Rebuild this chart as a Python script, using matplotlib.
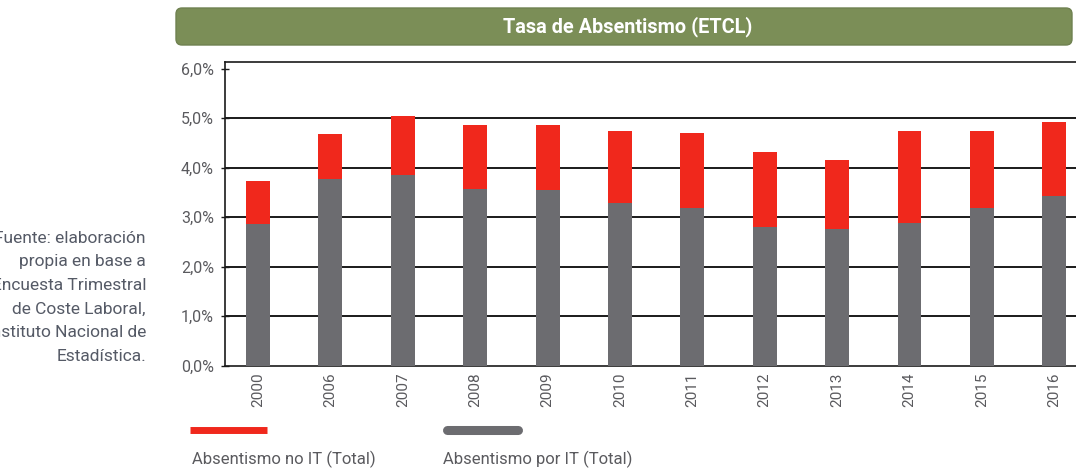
import numpy as np
import matplotlib
matplotlib.use("Agg")
import matplotlib.pyplot as plt
from matplotlib.patches import FancyBboxPatch
from matplotlib.lines import Line2D

# Datos (porcentaje)
years = ["2000", "2006", "2007", "2008", "2009", "2010",
         "2011", "2012", "2013", "2014", "2015", "2016"]
por_it = [2.87, 3.78, 3.86, 3.56, 3.54, 3.28, 3.19, 2.80, 2.75, 2.89, 3.19, 3.42]
no_it = [0.87, 0.91, 1.19, 1.30, 1.32, 1.46, 1.52, 1.52, 1.41, 1.85, 1.55, 1.50]
y_ticks = [0, 1, 2, 3, 4, 5, 6]
y_labels = ["0,0%", "1,0%", "2,0%", "3,0%", "4,0%", "5,0%", "6,0%"]

title = "Tasa de Absentismo (ETCL)"
fuente = ["Fuente: elaboración", "propia en base a", "Encuesta Trimestral",
          "de Coste Laboral,", "Instituto Nacional de", "Estadística."]
leg_labels = ["Absentismo no IT (Total)", "Absentismo por IT (Total)"]

RED = "#f0281c"
GRAY = "#6c6c70"
TXT = "#5a5a5e"

plt.rcParams['font.family'] = ['Roboto', 'DejaVu Sans']

fig = plt.figure(figsize=(10.76, 4.73), dpi=100)
fig.patch.set_facecolor("white")

# ejes: borde derecho cortado como en la imagen
ax = fig.add_axes([225 / 1076, (473 - 365.5) / 473, 1 - 225 / 1076, (365.5 - 62.3) / 473])
x = np.arange(len(years))
ax.bar(x, por_it, width=0.33, color=GRAY, zorder=3)
ax.bar(x, no_it, width=0.33, bottom=por_it, color=RED, zorder=3)

ax.set_xlim(-0.456, 11.30)
ax.set_ylim(0, 6.13)
ax.set_yticks(y_ticks)
ax.set_yticklabels(y_labels, fontsize=11.5, color=TXT)
for v in [1, 2, 3, 4, 5]:
    ax.axhline(v, color="#1a1a1a", lw=1.4, zorder=1)
ax.set_xticks(x)
ax.set_xticklabels(years, rotation=90, fontsize=11, color=TXT)
ax.tick_params(axis='x', length=0, pad=5)
ax.tick_params(axis='y', direction='inout', length=6, width=1, color="#1a1a1a", pad=5)
ax.spines['right'].set_visible(False)
for s in ['left', 'bottom', 'top']:
    ax.spines[s].set_color("#1a1a1a")
    ax.spines[s].set_linewidth(1.2)

# barra de titulo verde
box = FancyBboxPatch((1.78, 4.30), 8.92, 0.33,
                     boxstyle="round,pad=0.02,rounding_size=0.06",
                     transform=fig.dpi_scale_trans, facecolor="#7b8e57",
                     edgecolor="#6f8150", lw=1)
fig.add_artist(box)
fig.text((176 + 1072) / 2 / 1076 + 0.003, 1 - 27 / 473, title, ha="center", va="center",
         color="white", fontsize=14.3, fontweight="bold")

# texto de la fuente a la izquierda (cortado por el borde como en el original)
for i, line in enumerate(fuente):
    fig.text(146 / 1076, 1 - (238 + 23.7 * i) / 473, line, ha="right", va="center",
             fontsize=12.5, color="#555a66")

# leyenda manual
fig.add_artist(Line2D([190 / 1076, 267 / 1076], [1 - 430 / 473] * 2,
                      color=RED, lw=5, solid_capstyle="butt"))
fig.add_artist(Line2D([447 / 1076, 518 / 1076], [1 - 430 / 473] * 2,
                      color=GRAY, lw=6.5, solid_capstyle="round"))
fig.text(192 / 1076, 1 - 459 / 473, leg_labels[0], ha="left", va="center",
         fontsize=12, color=TXT)
fig.text(443 / 1076, 1 - 459 / 473, leg_labels[1], ha="left", va="center",
         fontsize=12, color=TXT)

fig.savefig("out.png", dpi=100)
